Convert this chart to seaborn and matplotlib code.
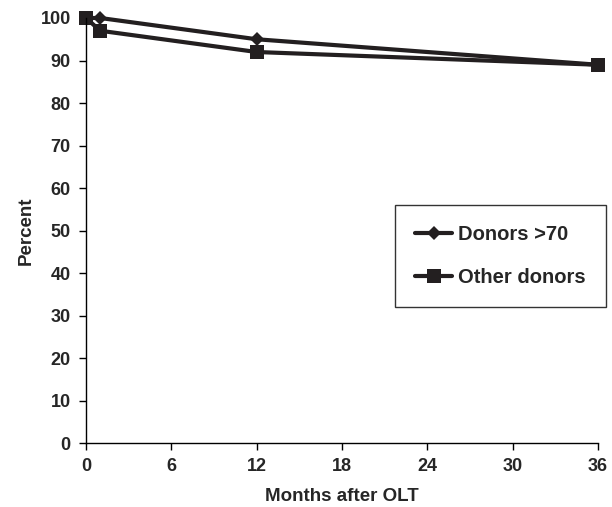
import matplotlib
matplotlib.use("Agg")
import matplotlib.pyplot as plt
import seaborn as sns
import pandas as pd

# survival data
months       = [0, 1, 12, 36]
donors_70    = [100, 100, 95, 89]
other_donors = [100, 97, 92, 89]

x_ticks = [0, 6, 12, 18, 24, 30, 36]
y_ticks = list(range(0, 101, 10))

sns.set_style("white")
plt.rcParams["font.family"] = ["Liberation Sans", "DejaVu Sans"]
plt.rcParams["font.weight"] = "bold"

df = pd.DataFrame({
    "Months": months * 2,
    "Percent": donors_70 + other_donors,
    "Group": ["Donors >70"] * len(months) + ["Other donors"] * len(months),
})

fig = plt.figure(figsize=(6.12, 5.07), dpi=100)
ax = fig.add_axes([0.1405, 0.126, 0.8365, 0.8385])

# other donors first so the diamonds sit on top at month 0
for grp, mk, ms in (("Other donors", "s", 10), ("Donors >70", "D", 7.5)):
    sub = df[df["Group"] == grp]
    sns.lineplot(data=sub, x="Months", y="Percent", ax=ax, color="#231f20",
                 linewidth=3, marker=mk, markersize=ms, markeredgewidth=0,
                 label=grp, legend=False)

ax.set_xlim(0, 36)
ax.set_ylim(0, 100)
ax.set_xticks(x_ticks)
ax.set_yticks(y_ticks)
ax.tick_params(direction="out", length=5, width=1, color="black",
               labelsize=13, bottom=True, left=True, pad=6)
for lab in ax.get_xticklabels() + ax.get_yticklabels():
    lab.set_fontweight("bold")
for s in ("top", "right"):
    ax.spines[s].set_visible(False)
for s in ("left", "bottom"):
    ax.spines[s].set_color("black")
    ax.spines[s].set_linewidth(1)
for ln in ax.lines:
    ln.set_clip_on(False)

ax.set_xlabel("Months after OLT", fontsize=13.5, fontweight="bold", labelpad=9)
ax.set_ylabel("Percent", fontsize=13.5, fontweight="bold", labelpad=4)

handles, labels = ax.get_legend_handles_labels()
order = [labels.index("Donors >70"), labels.index("Other donors")]
leg = ax.legend([handles[i] for i in order], [labels[i] for i in order],
                loc="upper left", bbox_to_anchor=(0.645, 0.596),
                bbox_transform=fig.transFigure,
                frameon=True, fancybox=False, edgecolor="black",
                prop={"size": 14.5, "weight": "bold"}, labelspacing=1.2,
                handlelength=1.85, handletextpad=0.3, borderpad=1.0,
                borderaxespad=0)
leg.get_frame().set_linewidth(1)

fig.savefig("out.png", dpi=100)
